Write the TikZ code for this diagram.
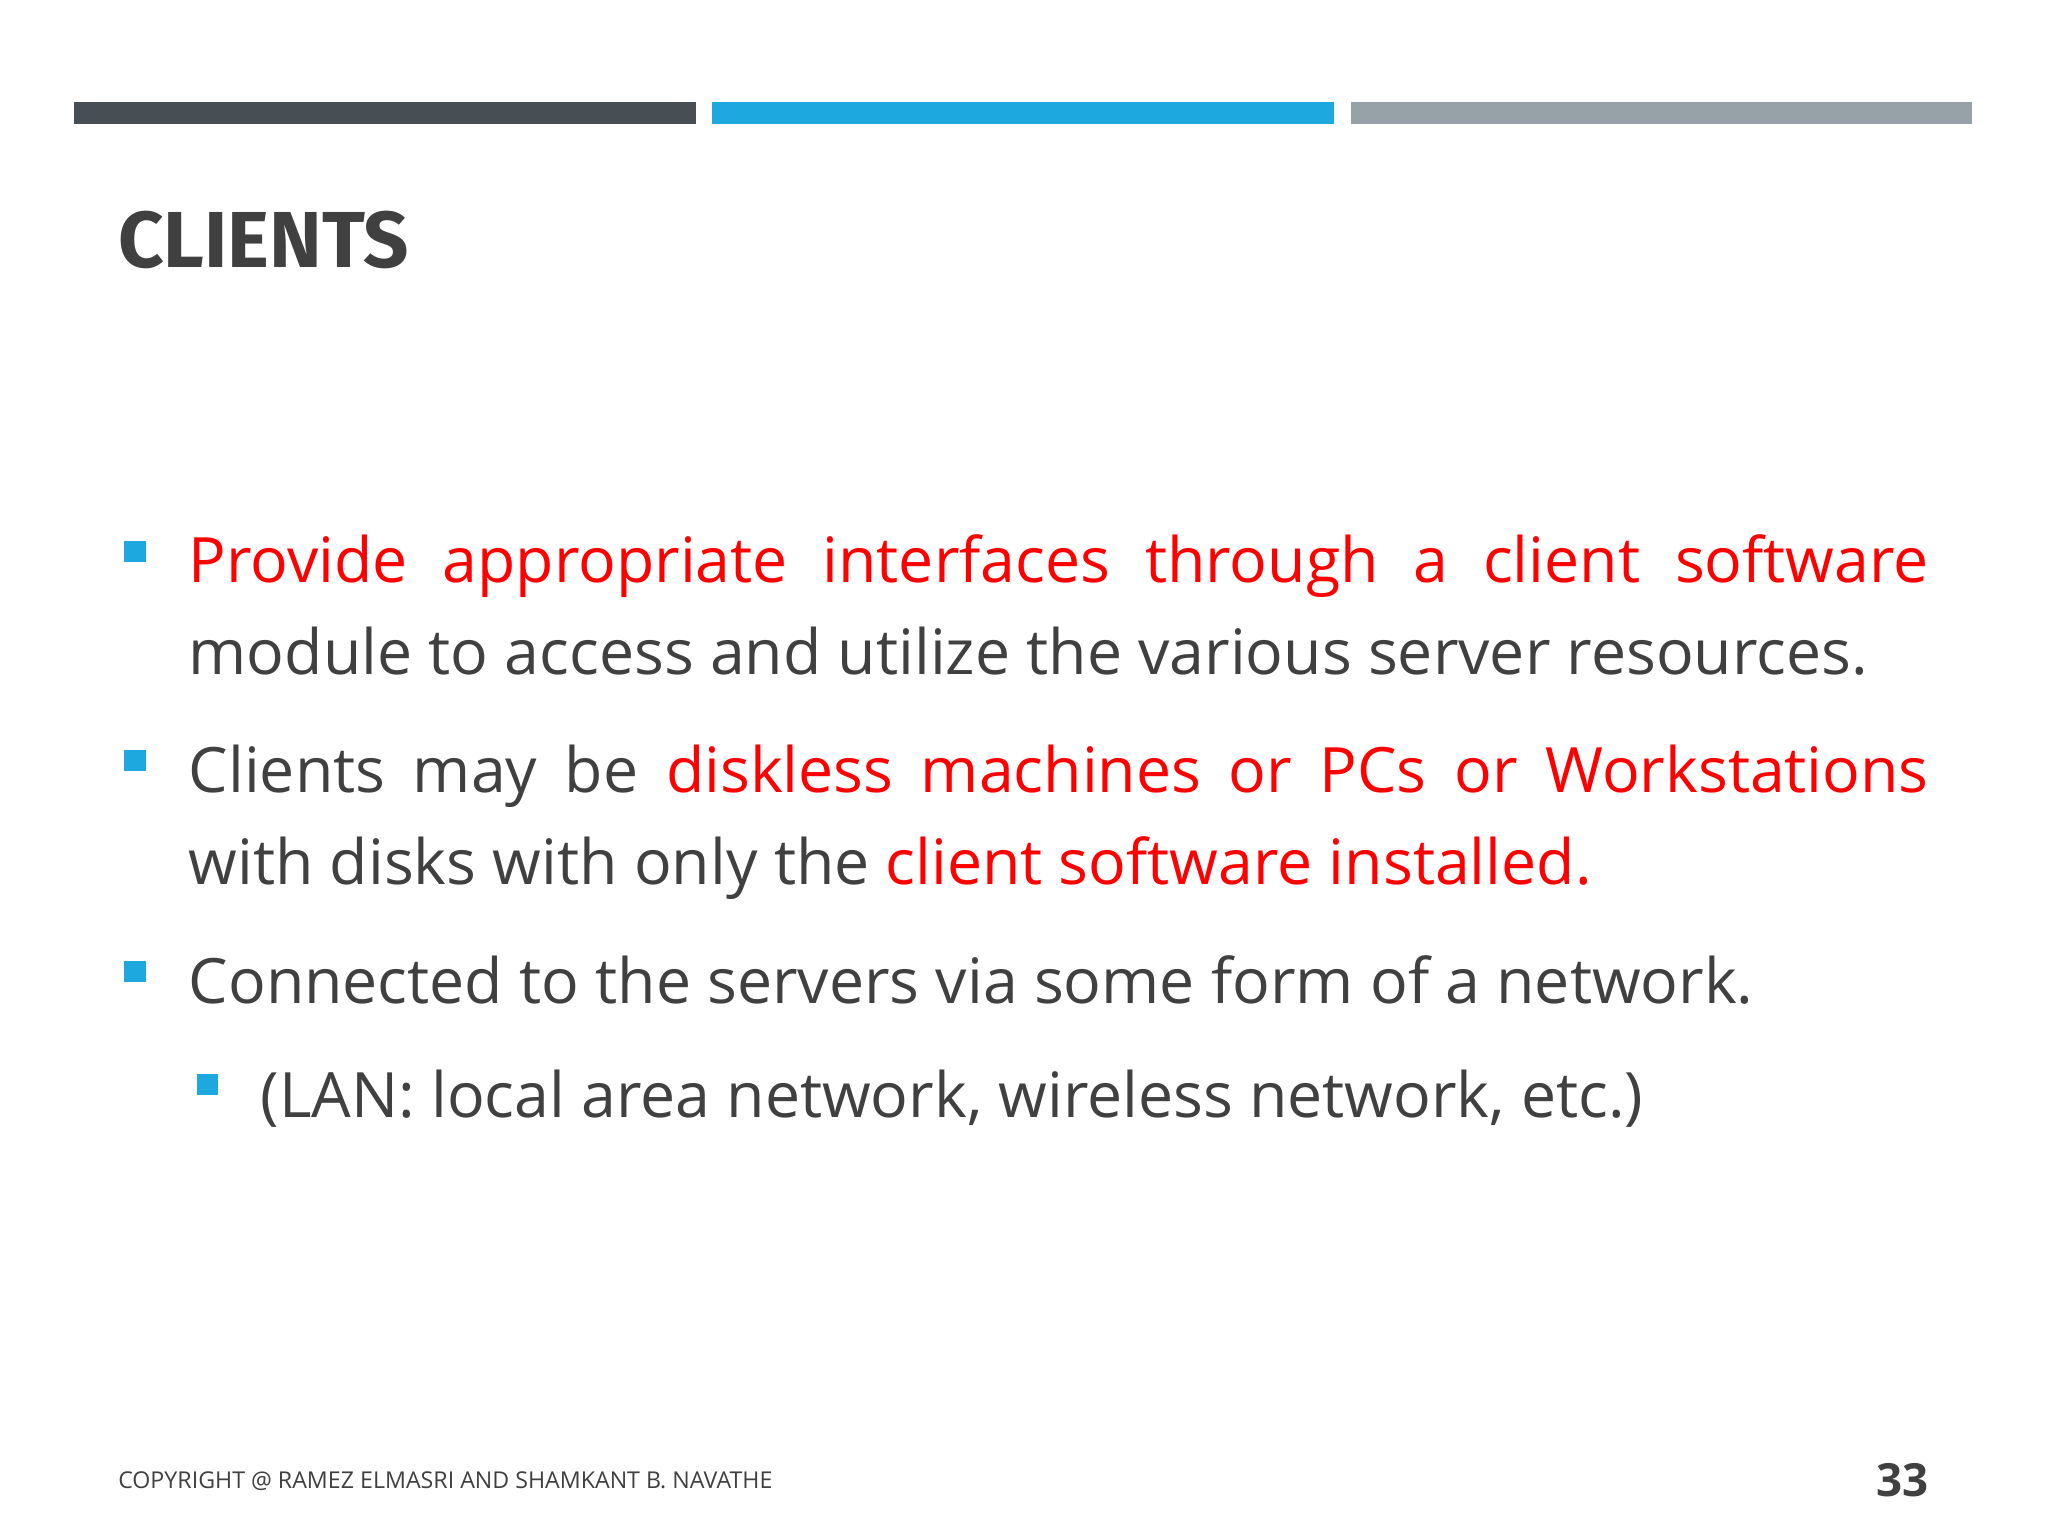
\documentclass[tikz,border=0pt]{standalone}
\usepackage{fontspec}
\setmainfont{Open Sans}
\newfontfamily\titlefont{Fira Sans}
\definecolor{txt}{HTML}{404040}
\definecolor{red1}{HTML}{FF0000}
\definecolor{bar1}{HTML}{474F55}
\definecolor{bar2}{HTML}{1EA8E0}
\definecolor{bar3}{HTML}{97A1A8}
\begin{document}
\begin{tikzpicture}[x=0.01306cm,y=-0.01306cm,
  para/.style={anchor=north west,inner sep=0pt,text width=17.4cm,align=justify,text=txt,font=\fontsize{17.8pt}{26pt}\selectfont},
  bul/.style={fill=bar2}]
\useasboundingbox (0,0) rectangle (1568,1176);
\fill[white] (0,0) rectangle (1568,1176);
\fill[bar1] (57,78) rectangle (533,95);
\fill[bar2] (545,78) rectangle (1021,95);
\fill[bar3] (1034,78) rectangle (1510,95);
\node[anchor=base west,inner sep=0pt,text=txt,font=\titlefont\bfseries\fontsize{22.6pt}{26pt}\selectfont] (title) at (90,205) {CLIENTS};
\fill[bul] (95,414) rectangle (112,430);
\fill[bul] (95,574) rectangle (112,590);
\fill[bul] (95,736) rectangle (112,752);
\fill[bul] (151,822) rectangle (167,838);
\node[para] (p1) at (144,409) {\textcolor{red1}{Provide appropriate interfaces through a client software}\linebreak module to access and utilize the various server resources.};
\node[para] (p2) at (144,570) {Clients may be \textcolor{red1}{diskless machines or PCs or Workstations}\linebreak with disks with only the \textcolor{red1}{client software installed.}};
\node[para] (p3) at (144,731) {Connected to the servers via some form of a network.};
\node[para,text width=16cm] (p4) at (199,819) {(LAN: local area network, wireless network, etc.)};
\node[anchor=base west,inner sep=0pt,text=txt,font=\fontsize{6.6pt}{8pt}\selectfont] (copy) at (90,1140) {COPYRIGHT @ RAMEZ ELMASRI AND SHAMKANT B. NAVATHE};
\node[anchor=base east,inner sep=0pt,text=txt,font=\bfseries\fontsize{13pt}{15pt}\selectfont] (num) at (1477,1146) {33};
\end{tikzpicture}
\end{document}
